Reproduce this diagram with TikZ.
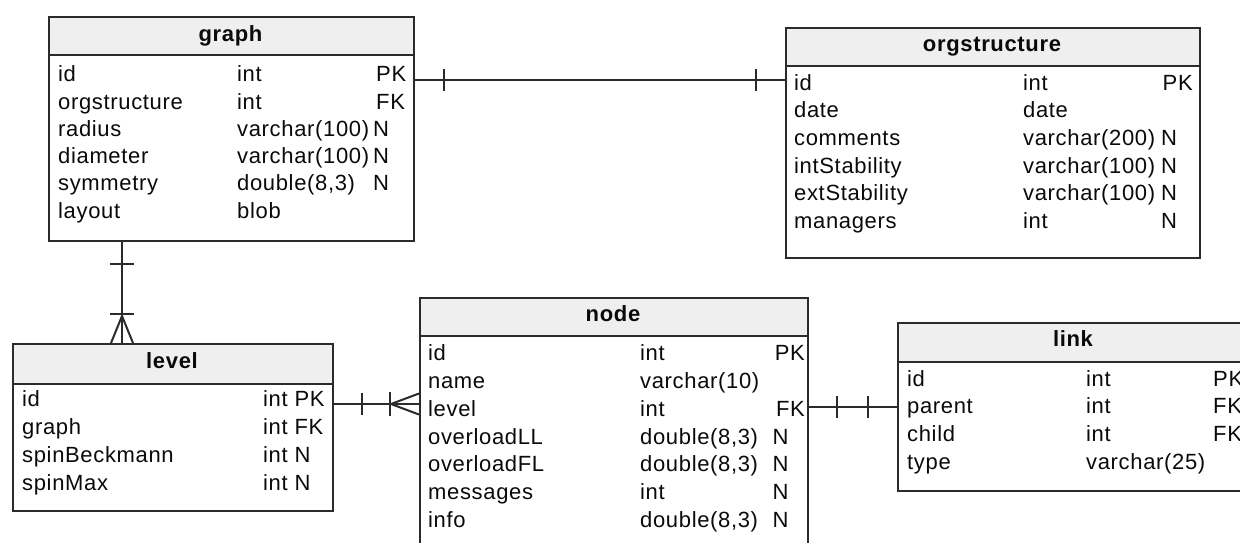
\documentclass[tikz,border=0pt]{standalone}
\usepackage{fontspec}
\setmainfont[LetterSpace=3]{Liberation Sans}
\definecolor{edge}{HTML}{2B2B2B}
\definecolor{headfill}{HTML}{EFEFEF}
\definecolor{ink}{HTML}{0A0A0A}
\tikzset{
  tbl/.style={draw=edge, line width=2pt, rectangle, inner sep=0pt, anchor=north west, fill=white},
  head/.style={draw=edge, line width=2pt, rectangle, inner sep=0pt, anchor=north west, fill=headfill},
  cell/.style={anchor=base west, inner sep=0pt, text=ink, font=\fontsize{22}{26}\selectfont},
  ttl/.style={anchor=base, inner sep=0pt, text=ink, font=\fontsize{22}{26}\selectfont\bfseries},
  rel/.style={draw=edge, line width=2pt},
}
\begin{document}
\begin{tikzpicture}[x=1pt, y=-1pt]
\clip (0,0) rectangle (1240,542);
\fill[white] (0,0) rectangle (1240,542);

% ---------- table: graph ----------
\node[tbl, minimum width=365pt, minimum height=224pt] (graph) at (48,16) {};
\node[head, minimum width=365pt, minimum height=38pt] (graph-h) at (48,16) {};
\node[ttl] (graph-t) at (230.5,41) {graph};
\node[cell] (graph-n1) at (58,81.7) {id};
\node[cell] (graph-n2) at (58,109) {orgstructure};
\node[cell] (graph-n3) at (58,136.3) {radius};
\node[cell] (graph-n4) at (58,163.6) {diameter};
\node[cell] (graph-n5) at (58,190.9) {symmetry};
\node[cell] (graph-n6) at (58,218.2) {layout};
\node[cell] (graph-y1) at (237,81.7) {int};
\node[cell] (graph-y2) at (237,109) {int};
\node[cell] (graph-y3) at (237,136.3) {varchar(100)};
\node[cell] (graph-y4) at (237,163.6) {varchar(100)};
\node[cell] (graph-y5) at (237,190.9) {double(8,3)};
\node[cell] (graph-y6) at (237,218.2) {blob};
\node[cell] (graph-f1) at (376,81.7) {PK};
\node[cell] (graph-f2) at (376,109) {FK};
\node[cell] (graph-f3) at (373,136.3) {N};
\node[cell] (graph-f4) at (373,163.6) {N};
\node[cell] (graph-f5) at (373,190.9) {N};

% ---------- table: orgstructure ----------
\node[tbl, minimum width=414pt, minimum height=230pt] (org) at (785,27) {};
\node[head, minimum width=414pt, minimum height=38pt] (org-h) at (785,27) {};
\node[ttl] (org-t) at (992,51) {orgstructure};
\node[cell] (org-n1) at (794,90) {id};
\node[cell] (org-n2) at (794,117.7) {date};
\node[cell] (org-n3) at (794,145.4) {comments};
\node[cell] (org-n4) at (794,173.1) {intStability};
\node[cell] (org-n5) at (794,200.8) {extStability};
\node[cell] (org-n6) at (794,228.5) {managers};
\node[cell] (org-y1) at (1023,90) {int};
\node[cell] (org-y2) at (1023,117.7) {date};
\node[cell] (org-y3) at (1023,145.4) {varchar(200)};
\node[cell] (org-y4) at (1023,173.1) {varchar(100)};
\node[cell] (org-y5) at (1023,200.8) {varchar(100)};
\node[cell] (org-y6) at (1023,228.5) {int};
\node[cell] (org-f1) at (1162.5,90) {PK};
\node[cell] (org-f3) at (1161,145.4) {N};
\node[cell] (org-f4) at (1161,173.1) {N};
\node[cell] (org-f5) at (1161,200.8) {N};
\node[cell] (org-f6) at (1161,228.5) {N};

% ---------- table: level ----------
\node[tbl, minimum width=320pt, minimum height=167pt] (level) at (12,343) {};
\node[head, minimum width=320pt, minimum height=40pt] (level-h) at (12,343) {};
\node[ttl] (level-t) at (172,368) {level};
\node[cell] (level-n1) at (22,406.7) {id};
\node[cell] (level-n2) at (22,434.5) {graph};
\node[cell] (level-n3) at (22,462.3) {spinBeckmann};
\node[cell] (level-n4) at (22,490.1) {spinMax};
\node[cell] (level-y1) at (263,406.7) {int PK};
\node[cell] (level-y2) at (263,434.5) {int FK};
\node[cell] (level-y3) at (263,462.3) {int N};
\node[cell] (level-y4) at (263,490.1) {int N};

% ---------- table: node ----------
\node[tbl, minimum width=388pt, minimum height=260pt] (node) at (419,297) {};
\node[head, minimum width=388pt, minimum height=38pt] (node-h) at (419,297) {};
\node[ttl] (node-t) at (613,321) {node};
\node[cell] (node-n1) at (428,360.7) {id};
\node[cell] (node-n2) at (428,388.5) {name};
\node[cell] (node-n3) at (428,416.3) {level};
\node[cell] (node-n4) at (428,444.1) {overloadLL};
\node[cell] (node-n5) at (428,471.9) {overloadFL};
\node[cell] (node-n6) at (428,499.7) {messages};
\node[cell] (node-n7) at (428,527.5) {info};
\node[cell] (node-y1) at (640,360.7) {int};
\node[cell] (node-y2) at (640,388.5) {varchar(10)};
\node[cell] (node-y3) at (640,416.3) {int};
\node[cell] (node-y4) at (640,444.1) {double(8,3)};
\node[cell] (node-y5) at (640,471.9) {double(8,3)};
\node[cell] (node-y6) at (640,499.7) {int};
\node[cell] (node-y7) at (640,527.5) {double(8,3)};
\node[cell, anchor=base east] (node-f1) at (805,360.7) {PK};
\node[cell, anchor=base east] (node-f3) at (805,416.3) {FK};
\node[cell] (node-f4) at (772.5,444.1) {N};
\node[cell] (node-f5) at (772.5,471.9) {N};
\node[cell] (node-f6) at (772.5,499.7) {N};
\node[cell] (node-f7) at (772.5,527.5) {N};

% ---------- table: link ----------
\node[tbl, minimum width=352pt, minimum height=168pt] (link) at (897,322) {};
\node[head, minimum width=352pt, minimum height=39pt] (link-h) at (897,322) {};
\node[ttl] (link-t) at (1073,346) {link};
\node[cell] (link-n1) at (907,386) {id};
\node[cell] (link-n2) at (907,413.8) {parent};
\node[cell] (link-n3) at (907,441.6) {child};
\node[cell] (link-n4) at (907,469.4) {type};
\node[cell] (link-y1) at (1086,386) {int};
\node[cell] (link-y2) at (1086,413.8) {int};
\node[cell] (link-y3) at (1086,441.6) {int};
\node[cell] (link-y4) at (1086,469.4) {varchar(25)};
\node[cell] (link-f1) at (1213,386) {PK};
\node[cell] (link-f2) at (1213,413.8) {FK};
\node[cell] (link-f3) at (1213,441.6) {FK};

% ---------- relationships ----------
% graph (one) -- orgstructure (one)
\coordinate (r1) at (0,80);
\draw[rel] (graph.east |- r1) -- (org.west |- r1);
\draw[rel] ([xshift=29pt]graph.east |- r1) ++(0,-11) -- ++(0,22);
\draw[rel] ([xshift=-29pt]org.west |- r1) ++(0,-11) -- ++(0,22);

% graph (one) -- level (many)
\coordinate (r2) at (122,0);
\draw[rel] (r2 |- graph.south) -- (r2 |- level.north);
\draw[rel] ([yshift=-22pt]r2 |- graph.south) ++(-12,0) -- ++(24,0);
\draw[rel] ([yshift=29pt]r2 |- level.north) ++(-12,0) -- ++(24,0);
\draw[rel] ([xshift=-11pt]r2 |- level.north) -- ([yshift=27pt]r2 |- level.north) -- ([xshift=11pt]r2 |- level.north);

% level (one) -- node (many)
\coordinate (r3) at (0,404);
\draw[rel] (level.east |- r3) -- (node.west |- r3);
\draw[rel] ([xshift=28pt]level.east |- r3) ++(0,-11) -- ++(0,22);
\draw[rel] ([xshift=-29pt]node.west |- r3) ++(0,-12) -- ++(0,24);
\draw[rel] ([yshift=10.5pt]node.west |- r3) -- ([xshift=-28pt]node.west |- r3) -- ([yshift=-10.5pt]node.west |- r3);

% node (one) -- link (one)
\coordinate (r4) at (0,407);
\draw[rel] (node.east |- r4) -- (link.west |- r4);
\draw[rel] ([xshift=28pt]node.east |- r4) ++(0,-11) -- ++(0,22);
\draw[rel] ([xshift=-29pt]link.west |- r4) ++(0,-11) -- ++(0,22);
\end{tikzpicture}
\end{document}
